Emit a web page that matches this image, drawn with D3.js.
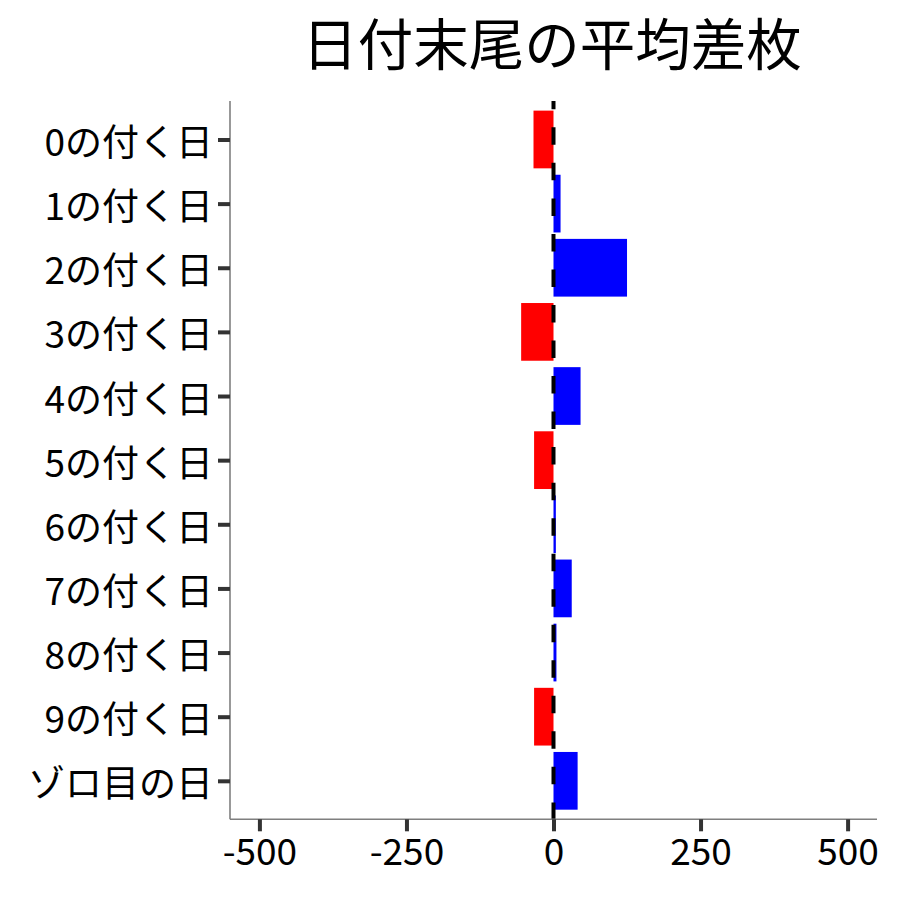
<!DOCTYPE html>
<html><head><meta charset="utf-8">
<script src="https://cdn.jsdelivr.net/npm/d3@7"></script>
<style>body{margin:0;background:#fff;} text{font-family:"Noto Sans CJK JP","Noto Sans",sans-serif;}</style>
</head><body>
<svg id="c" width="900" height="900"></svg>
<script>
const title = "日付末尾の平均差枚";
const categories = ["0の付く日","1の付く日","2の付く日","3の付く日","4の付く日","5の付く日","6の付く日","7の付く日","8の付く日","9の付く日","ゾロ目の日"];
const values = [-34, 12, 125, -55, 46, -33, 4, 31, 5, -33, 41];
const xTicks = [-500, -250, 0, 250, 500];
const xDomain = [-550, 550];

(function(){
const svg = d3.select("#c");
const pL = 230, pR = 877, pT = 101, pB = 819.3;
const x = d3.scaleLinear().domain(xDomain).range([pL, pR]);
const step = (pB - pT) / (categories.length - 1 + 1.2);
const y = d3.scalePoint().domain(categories).range([pT + 0.6*step, pB - 0.6*step]);
const bw = 0.9 * step;

svg.append("rect").attr("width",900).attr("height",900).attr("fill","#fff");

svg.append("g").selectAll("rect").data(categories).join("rect")
  .attr("x", (d,i) => x(Math.min(0, values[i])))
  .attr("width", (d,i) => Math.abs(x(values[i]) - x(0)))
  .attr("y", d => y(d) - bw/2)
  .attr("height", bw)
  .attr("fill", (d,i) => values[i] < 0 ? "#FF0000" : "#0000FF");

svg.append("line")
  .attr("x1", x(0)).attr("x2", x(0)).attr("y1", pT).attr("y2", pB)
  .attr("stroke", "#000").attr("stroke-width", 4)
  .attr("stroke-dasharray", "17.5,18.03").attr("stroke-dashoffset", 9.2);

const xAxis = svg.append("g").attr("transform", `translate(0,${pB})`)
  .call(d3.axisBottom(x).tickValues(xTicks).tickSize(12).tickPadding(7).tickFormat(d3.format("d")));
xAxis.select(".domain").attr("stroke","#7f7f7f").attr("stroke-width",1.6).attr("d", `M${pL},0H${pR}`);
xAxis.selectAll(".tick line").attr("stroke","#333").attr("stroke-width",4);
xAxis.selectAll(".tick text").attr("fill","#000").attr("font-size",37).text(d => d < 0 ? "-" + Math.abs(d) : d);

const yAxis = svg.append("g").attr("transform", `translate(${pL},0)`)
  .call(d3.axisLeft(y).tickSize(12).tickPadding(5));
yAxis.select(".domain").attr("stroke","#7f7f7f").attr("stroke-width",1.6).attr("d", `M0,${pT}V${pB}`);
yAxis.selectAll(".tick line").attr("stroke","#333").attr("stroke-width",4);
yAxis.selectAll(".tick text").attr("fill","#000").attr("font-size",37).attr("dy",null).attr("dominant-baseline","central");

svg.append("text").attr("x", (pL+pR)/2 - 1.5).attr("y", 65)
  .attr("text-anchor","middle").attr("font-size",55.5).attr("fill","#000").text(title);
})();
</script>
</body></html>
